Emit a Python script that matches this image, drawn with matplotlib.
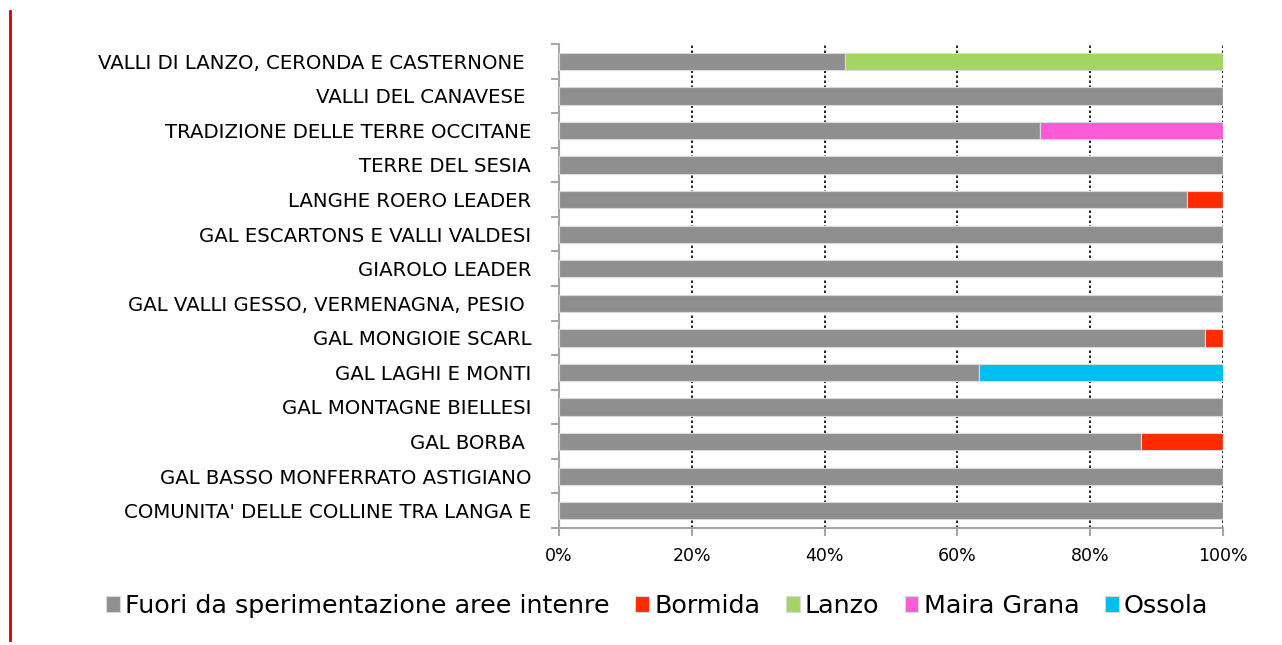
import numpy as np
import matplotlib.pyplot as plt
from matplotlib.lines import Line2D

# categories, top to bottom as in the chart
categories = [
    "VALLI DI LANZO, CERONDA E CASTERNONE ",
    "VALLI DEL CANAVESE ",
    "TRADIZIONE DELLE TERRE OCCITANE",
    "TERRE DEL SESIA",
    "LANGHE ROERO LEADER",
    "GAL ESCARTONS E VALLI VALDESI",
    "GIAROLO LEADER",
    "GAL VALLI GESSO, VERMENAGNA, PESIO ",
    "GAL MONGIOIE SCARL",
    "GAL LAGHI E MONTI",
    "GAL MONTAGNE BIELLESI",
    "GAL BORBA ",
    "GAL BASSO MONFERRATO ASTIGIANO",
    "COMUNITA' DELLE COLLINE TRA LANGA E",
]

fuori = [43.1, 100, 72.4, 100, 94.6, 100, 100, 100, 97.3, 63.3, 100, 87.6, 100, 100]
bormida = [0, 0, 0, 0, 5.4, 0, 0, 0, 2.7, 0, 0, 12.4, 0, 0]
lanzo = [56.9, 0, 0, 0, 0, 0, 0, 0, 0, 0, 0, 0, 0, 0]
maira_grana = [0, 0, 27.6, 0, 0, 0, 0, 0, 0, 0, 0, 0, 0, 0]
ossola = [0, 0, 0, 0, 0, 0, 0, 0, 0, 36.7, 0, 0, 0, 0]

series = [
    ("Fuori da sperimentazione aree intenre", fuori, "#8f8f8f"),
    ("Bormida", bormida, "#ff2a00"),
    ("Lanzo", lanzo, "#a3d660"),
    ("Maira Grana", maira_grana, "#ff5ad7"),
    ("Ossola", ossola, "#00bff0"),
]

plt.rcParams['font.family'] = ['DejaVu Sans']

fig = plt.figure(figsize=(12.82, 6.45), dpi=100)
ax = fig.add_axes([559 / 1282, 1 - 528 / 645, 664 / 1282, 484 / 645])

y = np.arange(len(categories))[::-1]
left = np.zeros(len(categories))
for name, vals, color in series:
    vals = np.array(vals, dtype=float)
    ax.barh(y, vals, left=left, height=0.5, color=color, label=name,
            edgecolor="#d9d9d9", linewidth=0.8, zorder=3)
    left += vals

ax.set_xlim(0, 100)
ax.set_ylim(-0.5, len(categories) - 0.5)
ax.set_xticks(np.arange(0, 101, 20))
ax.set_xticklabels([f"{v}%" for v in range(0, 101, 20)], fontsize=12.5)
ax.set_yticks(y)
ax.set_yticklabels(categories, fontsize=14.2)
ax.tick_params(axis='y', length=0, pad=20)
ax.set_yticks(np.arange(-0.5, len(categories), 1), minor=True)
ax.tick_params(axis='y', which='minor', length=6, color="#a6a6a6", width=1.5)
ax.tick_params(axis='x', length=6, color="#a6a6a6", width=1.5, pad=8)

ax.grid(axis='x', color='black', linestyle=(0, (1.5, 1.5)), linewidth=1.2, zorder=1)
for s in ['top', 'right']:
    ax.spines[s].set_visible(False)
for s in ['left', 'bottom']:
    ax.spines[s].set_color("#a6a6a6")
    ax.spines[s].set_linewidth(1.5)

handles, labels = ax.get_legend_handles_labels()
fig.legend(handles, labels, loc='center', bbox_to_anchor=(657 / 1282, 1 - 606 / 645),
           ncol=5, frameon=False, fontsize=18.3, handlelength=0.55, handleheight=0.55,
           handletextpad=0.2, columnspacing=1.0)

# red vertical rule at the left edge
fig.add_artist(Line2D([10 / 1282, 10 / 1282], [1 - 11 / 645, 1 - 640 / 645],
                      color="#d40000", linewidth=2))

fig.savefig("out.png", dpi=100)
